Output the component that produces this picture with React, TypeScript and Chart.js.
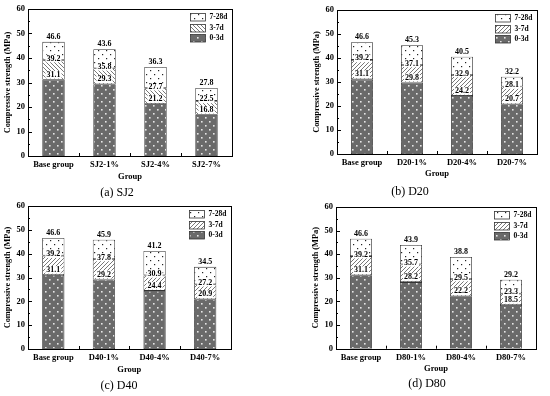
import React, { useEffect, useRef } from "react";
import { Chart, registerables } from "chart.js";
Chart.register(...registerables);

const SERIES = ["0-3d", "3-7d", "7-28d"];
const Y_TITLE = "Compressive strength (MPa)";
const X_TITLE = "Group";

const SJ2_CATS = ["Base group", "SJ2-1%", "SJ2-4%", "SJ2-7%"];
const SJ2_3D = [31.1, 29.3, 21.2, 16.8];
const SJ2_7D = [39.2, 35.8, 27.7, 22.5];
const SJ2_28D = [46.6, 43.6, 36.3, 27.8];

const D20_CATS = ["Base group", "D20-1%", "D20-4%", "D20-7%"];
const D20_3D = [31.1, 29.8, 24.2, 20.7];
const D20_7D = [39.2, 37.1, 32.9, 28.1];
const D20_28D = [46.6, 45.3, 40.5, 32.2];

const D40_CATS = ["Base group", "D40-1%", "D40-4%", "D40-7%"];
const D40_3D = [31.1, 29.2, 24.4, 20.9];
const D40_7D = [39.2, 37.8, 30.9, 27.2];
const D40_28D = [46.6, 45.9, 41.2, 34.5];

const D80_CATS = ["Base group", "D80-1%", "D80-4%", "D80-7%"];
const D80_3D = [31.1, 28.2, 22.2, 18.5];
const D80_7D = [39.2, 35.7, 29.5, 23.3];
const D80_28D = [46.6, 43.9, 38.8, 29.2];

const SERIF = '"Liberation Serif", "Times New Roman", serif';

type Cfg = {
  cats: string[]; v3: number[]; v7: number[]; v28: number[];
  left: number; top: number;
  aL: number; aR: number; aT: number; aB: number;
  groupY: number; caption: string; capX: number; capY: number; hatch: "/" | "\\";
};

const PANELS: Cfg[] = [
  { cats: SJ2_CATS, v3: SJ2_3D, v7: SJ2_7D, v28: SJ2_28D, left: 0, top: 0, aL: 28, aR: 232, aT: 9, aB: 156, groupY: 176.7, caption: "(a) SJ2", capX: 117, capY: 192.5, hatch: "\\" },
  { cats: D20_CATS, v3: D20_3D, v7: D20_7D, v28: D20_28D, left: 275, top: 0, aL: 62, aR: 262, aT: 10, aB: 154, groupY: 174, caption: "(b) D20", capX: 135, capY: 192, hatch: "/" },
  { cats: D40_CATS, v3: D40_3D, v7: D40_7D, v28: D40_28D, left: 0, top: 198, aL: 28, aR: 230.5, aT: 8, aB: 151, groupY: 172, caption: "(c) D40", capX: 119, capY: 188, hatch: "/" },
  { cats: D80_CATS, v3: D80_3D, v7: D80_7D, v28: D80_28D, left: 275, top: 198, aL: 61, aR: 261, aT: 9, aB: 150.7, groupY: 171, caption: "(d) D80", capX: 152, capY: 186, hatch: "/" },
];

function makePatterns(dir: "/" | "\\") {
  const mk = (w: number, h: number, draw: (c: CanvasRenderingContext2D) => void) => {
    const cv = document.createElement("canvas");
    cv.width = w; cv.height = h;
    const c = cv.getContext("2d")!;
    draw(c);
    return c.createPattern(cv, "repeat")!;
  };
  const dark = mk(8, 8, (c) => {
    c.fillStyle = "#6a6a6a"; c.fillRect(0, 0, 8, 8);
    c.fillStyle = "#e6e6e6";
    c.fillRect(1, 1, 1.6, 1.6); c.fillRect(5, 5, 1.6, 1.6);
  });
  const hatch = mk(4, 4, (c) => {
    c.fillStyle = "#ffffff"; c.fillRect(0, 0, 4, 4);
    c.strokeStyle = "#555"; c.lineWidth = 0.8;
    c.beginPath();
    if (dir === "/") {
      c.moveTo(-1, 5); c.lineTo(5, -1);
      c.moveTo(-1, 1); c.lineTo(1, -1);
      c.moveTo(3, 5); c.lineTo(5, 3);
    } else {
      c.moveTo(-1, -1); c.lineTo(5, 5);
      c.moveTo(-1, 3); c.lineTo(1, 5);
      c.moveTo(3, -1); c.lineTo(5, 1);
    }
    c.stroke();
  });
  const light = mk(8, 8, (c) => {
    c.fillStyle = "#ffffff"; c.fillRect(0, 0, 8, 8);
    c.fillStyle = "#222";
    c.fillRect(2, 2, 1.2, 1.2); c.fillRect(6, 6, 1.2, 1.2);
  });
  return { dark, hatch, light };
}

function Panel({ cfg }: { cfg: Cfg }) {
  const ref = useRef<HTMLCanvasElement>(null);
  useEffect(() => {
    const W = 275, H = 198;
    const pats = makePatterns(cfg.hatch);
    const d1 = cfg.v3;
    const d2 = cfg.v7.map((v, i) => +(v - cfg.v3[i]).toFixed(2));
    const d3 = cfg.v28.map((v, i) => +(v - cfg.v7[i]).toFixed(2));
    const tickFont = { family: SERIF, size: 8.5, weight: "bold" as const };
    const titleFont = { family: SERIF, size: 8.5, weight: "bold" as const };
    const yTitleFont = { family: SERIF, size: 8.3, weight: "bold" as const };
    const xH = cfg.groupY + 5.1 - cfg.aB;
    const padBottom = H - cfg.aB - xH;
    const border = "#333";

    const framePlugin = {
      id: "frame",
      afterDatasetsDraw(chart: any) {
        const { ctx, chartArea: a, scales } = chart;
        ctx.save();
        ctx.strokeStyle = "#000"; ctx.lineWidth = 1;
        ctx.strokeRect(Math.round(a.left) + 0.5, Math.round(a.top) + 0.5, Math.round(a.right - a.left), Math.round(a.bottom - a.top));
        ctx.beginPath();
        for (let v = 0; v <= 60; v += 5) {
          const y = Math.round(scales.y.getPixelForValue(v)) + 0.5;
          const len = v % 10 === 0 ? 4 : 2;
          ctx.moveTo(a.left, y); ctx.lineTo(a.left + len, y);
        }
        const cw = (a.right - a.left) / cfg.cats.length;
        for (let i = 1; i < cfg.cats.length; i++) {
          const x = Math.round(a.left + i * cw) + 0.5;
          ctx.moveTo(x, a.bottom); ctx.lineTo(x, a.bottom - 3);
        }
        ctx.stroke();
        ctx.restore();
      },
    };

    const labelPlugin = {
      id: "vals",
      afterDatasetsDraw(chart: any) {
        const { ctx, scales } = chart;
        const meta = chart.getDatasetMeta(0);
        ctx.save();
        ctx.font = `bold 8px ${SERIF}`;
        ctx.textAlign = "center"; ctx.textBaseline = "middle";
        const draw = (txt: string, x: number, y: number, box: boolean) => {
          if (box) {
            const w = ctx.measureText(txt).width + 2;
            ctx.fillStyle = "#fff";
            ctx.fillRect(x - w / 2, y - 3.8, w, 7.6);
          }
          ctx.fillStyle = "#000";
          ctx.fillText(txt, x, y);
        };
        cfg.cats.forEach((_, i) => {
          const x = meta.data[i].x;
          draw(cfg.v28[i].toFixed(1), x, scales.y.getPixelForValue(cfg.v28[i]) - 5, false);
          draw(cfg.v7[i].toFixed(1), x, scales.y.getPixelForValue(cfg.v7[i]) - 1.5, true);
          draw(cfg.v3[i].toFixed(1), x, scales.y.getPixelForValue(cfg.v3[i]) - 5, true);
        });
        ctx.restore();
      },
    };

    const legendPlugin = {
      id: "lg",
      afterDraw(chart: any) {
        const { ctx, chartArea: a } = chart;
        const rows = [
          { t: SERIES[2], p: pats.light },
          { t: SERIES[1], p: pats.hatch },
          { t: SERIES[0], p: pats.dark },
        ];
        ctx.save();
        ctx.font = `bold 7.5px ${SERIF}`;
        ctx.textAlign = "left"; ctx.textBaseline = "middle";
        rows.forEach((r, k) => {
          const x = Math.round(a.right - 42) + 0.5;
          const y = Math.round(a.top + 4 + k * 10.5) + 0.5;
          ctx.fillStyle = r.p; ctx.fillRect(x, y, 15, 7.5);
          ctx.strokeStyle = border; ctx.lineWidth = 0.8; ctx.strokeRect(x, y, 15, 7.5);
          ctx.fillStyle = "#000";
          ctx.fillText(r.t, x + 19, y + 3.8);
        });
        ctx.restore();
      },
    };

    const captionPlugin = {
      id: "cap",
      afterDraw(chart: any) {
        const { ctx } = chart;
        ctx.save();
        ctx.font = `12px ${SERIF}`;
        ctx.fillStyle = "#000";
        ctx.textAlign = "center"; ctx.textBaseline = "middle";
        ctx.fillText(cfg.caption, cfg.capX, cfg.capY);
        ctx.restore();
      },
    };

    const mkDs = (label: string, data: number[], bg: any) => ({
      label, data, backgroundColor: bg, borderColor: border, borderWidth: 0.8,
      borderSkipped: false as const, stack: "s",
    });

    const chart = new Chart(ref.current!, {
      type: "bar",
      data: {
        labels: cfg.cats,
        datasets: [
          mkDs(SERIES[0], d1, pats.dark),
          mkDs(SERIES[1], d2, pats.hatch),
          mkDs(SERIES[2], d3, pats.light),
        ],
      },
      options: {
        responsive: false,
        animation: false,
        devicePixelRatio: 1,
        layout: { padding: { left: cfg.aL - 28, right: W - cfg.aR, top: cfg.aT, bottom: padBottom } },
        datasets: { bar: { barPercentage: 0.44, categoryPercentage: 1 } },
        plugins: { legend: { display: false }, tooltip: { enabled: false }, title: { display: false } },
        scales: {
          x: {
            stacked: true,
            grid: { display: false, drawTicks: false },
            border: { display: false },
            ticks: { font: tickFont, color: "#000", padding: 4, maxRotation: 0, autoSkip: false },
            title: { display: true, text: X_TITLE, font: titleFont, color: "#000", padding: 0 },
            afterFit: (s: any) => { s.height = xH; },
          },
          y: {
            stacked: true, min: 0, max: 60,
            grid: { display: false, drawTicks: false },
            border: { display: false },
            ticks: { stepSize: 10, font: tickFont, color: "#000", padding: 3 },
            title: { display: true, text: Y_TITLE, font: yTitleFont, color: "#000", padding: { top: 3.3, bottom: 0 } },
            afterFit: (s: any) => { s.width = 28; },
          },
        },
      } as any,
      plugins: [framePlugin, labelPlugin, legendPlugin, captionPlugin],
    });
    return () => chart.destroy();
  }, [cfg]);
  return (
    <div style={{ position: "absolute", left: cfg.left, top: cfg.top, width: 275, height: 198 }}>
      <canvas ref={ref} width={275} height={198} style={{ display: "block", width: 275, height: 198 }} />
    </div>
  );
}

export default function App() {
  return (
    <div style={{ position: "fixed", left: 0, top: 0, width: 550, height: 396, background: "#fff", overflow: "hidden" }}>
      {PANELS.map((p, i) => <Panel key={i} cfg={p} />)}
    </div>
  );
}
